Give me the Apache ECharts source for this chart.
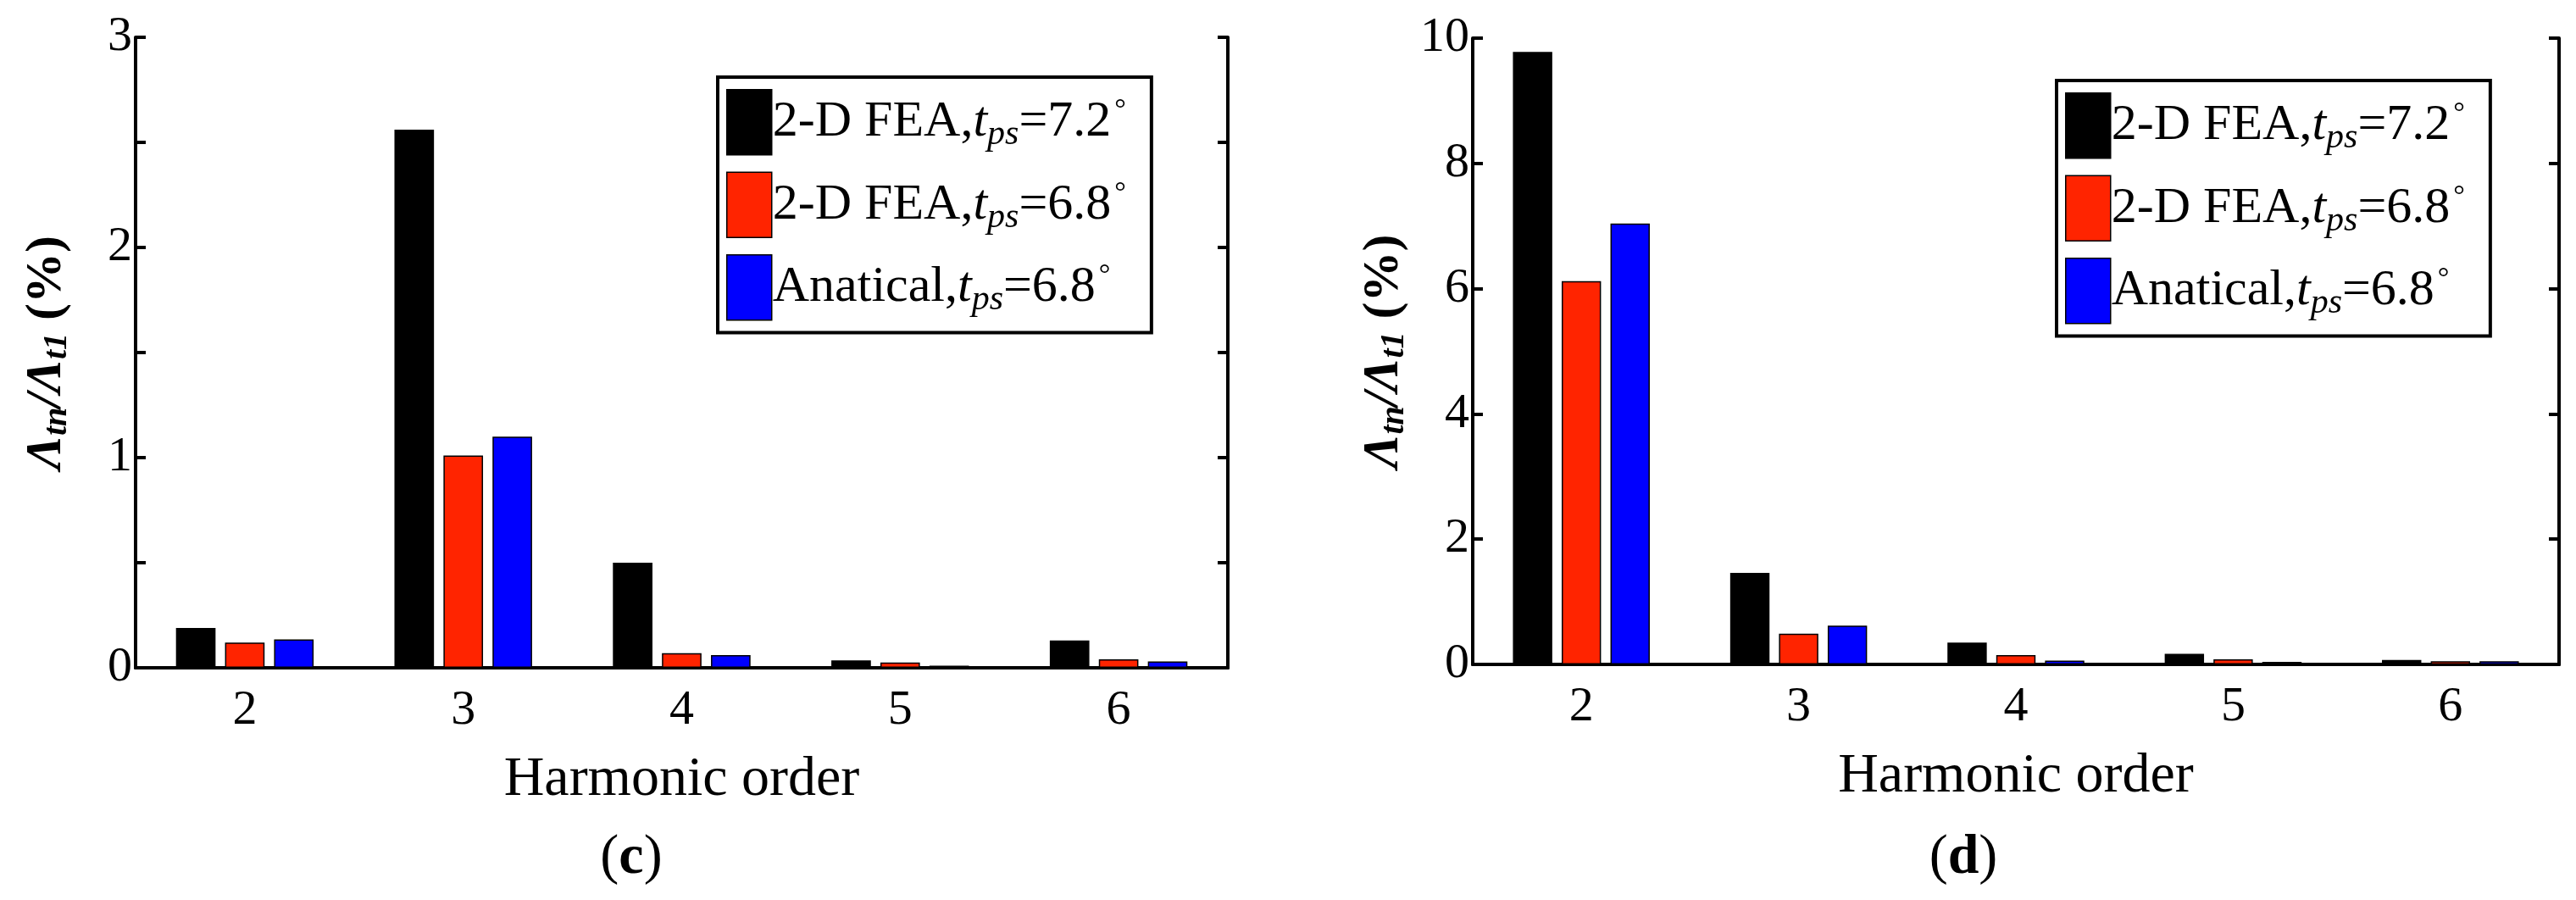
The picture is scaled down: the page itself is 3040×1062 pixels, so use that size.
<!DOCTYPE html>
<html>
<head>
<meta charset="utf-8">
<script src="https://cdn.jsdelivr.net/npm/echarts@6/dist/echarts.min.js"></script>
<style>
  html, body { margin: 0; padding: 0; background: #fff; }
  #chart { width: 3040px; height: 1062px; }
</style>
</head>
<body>
<div id="chart"></div>
<script>
const orders = ['2', '3', '4', '5', '6'];
const seriesNames = ['fea72', 'fea68', 'anal68'];
const colors = ['#000000', '#ff2400', '#0000ff'];

// panel (c)
const cFea72 = [0.19, 2.56, 0.50, 0.035, 0.13];
const cFea68 = [0.12, 1.01, 0.07, 0.025, 0.04];
const cAnal68 = [0.135, 1.10, 0.06, 0.01, 0.03];

// panel (d)
const dFea72 = [9.78, 1.46, 0.35, 0.17, 0.07];
const dFea68 = [6.12, 0.49, 0.15, 0.08, 0.05];
const dAnal68 = [7.04, 0.62, 0.06, 0.04, 0.05];

const FONT = '"Liberation Serif", "DejaVu Serif", serif';

const legendText = {
    fea72: '2-D FEA,{it|t}{sub|ps}=7.2{deg|°}',
    fea68: '2-D FEA,{it|t}{sub|ps}=6.8{deg|°}',
    anal68: 'Anatical,{it|t}{sub|ps}=6.8{deg|°}'
};

function legendFor(left, top) {
    return {
        orient: 'vertical',
        left: left,
        top: top,
        data: seriesNames.map(function (n) { return { name: n, icon: 'rect' }; }),
        itemWidth: 53,
        itemHeight: 77,
        itemGap: 19,
        padding: [14, 30, 14, 10],
        borderColor: '#000',
        borderWidth: 4,
        backgroundColor: '#fff',
        selectedMode: false,
        formatter: function (n) { return legendText[n]; },
        itemStyle: { borderColor: '#000', borderWidth: 1.5 },
        textStyle: {
            fontFamily: FONT,
            fontSize: 60,
            color: '#000',
            padding: [0, 0, 0, -4],
            rich: {
                it: { fontFamily: FONT, fontStyle: 'italic', fontSize: 60, color: '#000' },
                sub: { fontFamily: FONT, fontStyle: 'italic', fontSize: 42, color: '#000', padding: [30, 0, 0, 0] },
                deg: { fontFamily: FONT, fontSize: 34, color: '#000', padding: [0, 0, 28, 4] }
            }
        }
    };
}

const axisNameRich = {
    L: { fontFamily: FONT, fontStyle: 'italic', fontWeight: 'bold', fontSize: 60, color: '#000' },
    s: { fontFamily: FONT, fontStyle: 'italic', fontWeight: 'bold', fontSize: 40, color: '#000', padding: [26, 0, 0, 0] },
    b: { fontFamily: FONT, fontWeight: 'bold', fontSize: 60, color: '#000' }
};

function xAxes(gridIndex) {
    const base = {
        type: 'category',
        data: orders,
        gridIndex: gridIndex,
        axisLine: { lineStyle: { color: '#000', width: 4 } },
        axisTick: { inside: true, alignWithLabel: true, length: 12, lineStyle: { color: '#000', width: 4 } }
    };
    return [
        Object.assign({}, base, {
            position: 'bottom',
            name: 'Harmonic order',
            nameLocation: 'middle',
            nameGap: 100,
            nameTextStyle: { fontFamily: FONT, fontSize: 66, color: '#000' },
            axisLabel: { fontFamily: FONT, fontSize: 58, color: '#000', margin: 22 }
        }),
        Object.assign({}, base, { position: 'top', axisLabel: { show: false } })
    ];
}

function yAxes(gridIndex, max, interval, labelEvery) {
    const base = {
        type: 'value',
        gridIndex: gridIndex,
        min: 0,
        max: max,
        interval: interval,
        splitLine: { show: false },
        axisLine: { show: true, lineStyle: { color: '#000', width: 4 } },
        axisTick: { show: true, inside: true, length: 12, lineStyle: { color: '#000', width: 4 } }
    };
    return [
        Object.assign({}, base, {
            position: 'left',
            name: '{L|Λ}{s|tn}{L|/Λ}{s|t1}{b| (%)}',
            nameLocation: 'middle',
            nameRotate: 90,
            nameGap: 72,
            nameTextStyle: { rich: axisNameRich },
            axisLabel: {
                fontFamily: FONT, fontSize: 58, color: '#000', margin: 4,
                formatter: function (v) {
                    return Math.abs(v / labelEvery - Math.round(v / labelEvery)) < 1e-6 ? String(v) : '';
                }
            }
        }),
        Object.assign({}, base, { position: 'right', axisLabel: { show: false } })
    ];
}

function bars(name, data, color, xi, yi) {
    return {
        type: 'bar',
        name: name,
        data: data,
        xAxisIndex: xi,
        yAxisIndex: yi,
        barCategoryGap: '37%',
        barGap: '24%',
        itemStyle: { color: color, borderColor: '#000', borderWidth: 1.5 }
    };
}

const titleStyle = {
    fontFamily: FONT, fontSize: 66, fontWeight: 'normal', color: '#000',
    rich: { b: { fontFamily: FONT, fontSize: 66, fontWeight: 'bold', color: '#000' } }
};

const chart = echarts.init(document.getElementById('chart'));
const option = {
    backgroundColor: '#fff',
    animation: false,
    title: [
        { text: '({b|c})', left: 740, top: 975, textAlign: 'center', textStyle: titleStyle },
        { text: '({b|d})', left: 2312, top: 975, textAlign: 'center', textStyle: titleStyle }
    ],
    legend: [legendFor(847, 91), legendFor(2427, 95)],
    grid: [
        { left: 160, top: 44, width: 1289, height: 744, show: false },
        { left: 1738, top: 45, width: 1282, height: 739, show: false }
    ],
    xAxis: xAxes(0).concat(xAxes(1)),
    yAxis: yAxes(0, 3, 0.5, 1).concat(yAxes(1, 10, 2, 2)),
    series: [
        bars('fea72', cFea72, colors[0], 0, 0),
        bars('fea68', cFea68, colors[1], 0, 0),
        bars('anal68', cAnal68, colors[2], 0, 0),
        bars('fea72', dFea72, colors[0], 2, 2),
        bars('fea68', dFea68, colors[1], 2, 2),
        bars('anal68', dAnal68, colors[2], 2, 2)
    ]
};
chart.setOption(option);
</script>
</body>
</html>
